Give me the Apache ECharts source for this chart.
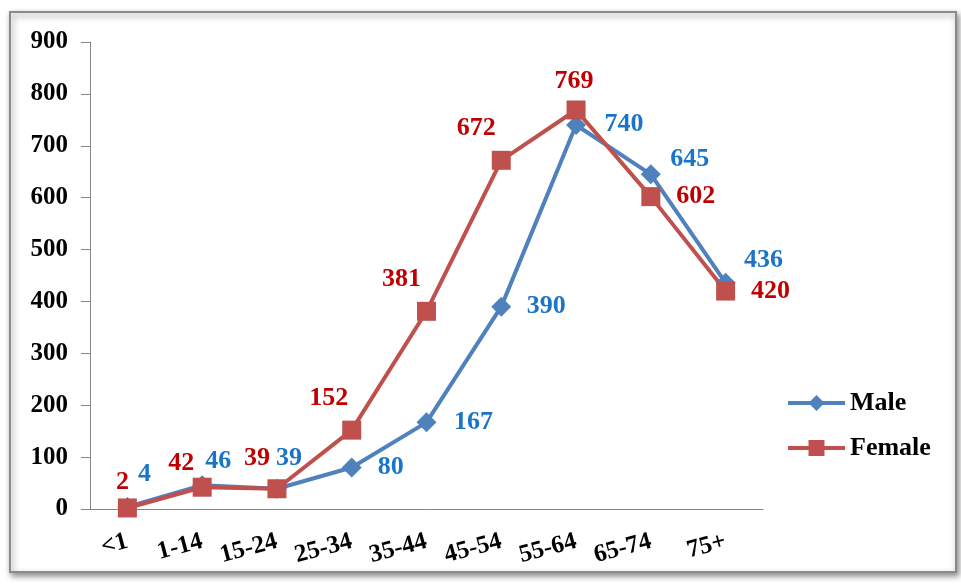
<!DOCTYPE html>
<html>
<head>
<meta charset="utf-8">
<script src="https://cdn.jsdelivr.net/npm/echarts@6/dist/echarts.min.js"></script>
<style>html,body{margin:0;padding:0;background:#fff;}#c{width:961px;height:584px;}</style>
</head>
<body>
<div id="c"></div>
<script>
var categories = ['<1', '1-14', '15-24', '25-34', '35-44', '45-54', '55-64', '65-74', '75+'];
var maleValues = [4, 46, 39, 80, 167, 390, 740, 645, 436];
var femaleValues = [2, 42, 39, 152, 381, 672, 769, 602, 420];
var yTicks = [0, 100, 200, 300, 400, 500, 600, 700, 800, 900];

// label offsets (style only)
var maleOffsets = [[17,-33],[16,-24],[12,-30],[39,0],[47,0],[45,0],[48,-1],[39,-15],[38,-22]];
var femaleOffsets = [[-5,-26],[-21,-24],[-20,-30],[-23,-32],[-25,-32],[-25,-32],[-2,-29],[45,0],[45,0]];

var FONT = '"Liberation Serif", "Times New Roman", serif';

function build(values, offsets) {
  return values.map(function (v, i) {
    return { value: v, label: { offset: offsets[i] } };
  });
}

var chart = echarts.init(document.getElementById('c'));
chart.setOption({
  animation: false,
  backgroundColor: '#fff',
  graphic: [{
    type: 'rect',
    z: -10,
    shape: { x: 10, y: 12, width: 946, height: 560 },
    style: { fill: '#fff', stroke: '#8a8a8a', lineWidth: 2, shadowBlur: 6, shadowOffsetX: 2, shadowOffsetY: 3, shadowColor: 'rgba(0,0,0,0.45)' },
    silent: true
  }],
  grid: { left: 90, right: 198, top: 42, bottom: 75 },
  legend: {
    orient: 'vertical',
    left: 781,
    top: 385,
    itemWidth: 57,
    itemHeight: 20,
    itemGap: 19,
    lineStyle: { width: 4 },
    textStyle: { fontFamily: FONT, fontWeight: 'bold', fontSize: 26, color: '#000' },
    data: ['Male', 'Female']
  },
  xAxis: {
    type: 'category',
    data: categories,
    boundaryGap: true,
    axisLine: { lineStyle: { color: '#868686', width: 1 } },
    axisTick: { length: 9, lineStyle: { color: '#868686' } },
    axisLabel: { interval: 0, rotate: 15, margin: 32, fontFamily: FONT, fontWeight: 'bold', fontSize: 25, color: '#000' }
  },
  yAxis: {
    type: 'value',
    min: 0, max: 900, interval: 100,
    splitLine: { show: false },
    axisLine: { show: true, lineStyle: { color: '#868686', width: 1 } },
    axisTick: { show: true, length: 9, lineStyle: { color: '#868686' } },
    axisLabel: {
      margin: 22, fontFamily: FONT, fontWeight: 'bold', fontSize: 25, color: '#000',
      formatter: function (v) { return yTicks.indexOf(v) >= 0 ? String(v) : ''; }
    }
  },
  series: [{
    name: 'Male',
    type: 'line',
    data: build(maleValues, maleOffsets),
    symbol: 'diamond',
    symbolSize: 20,
    lineStyle: { color: '#4f81bd', width: 4 },
    itemStyle: { color: '#4f81bd' },
    label: { show: true, position: 'inside', fontFamily: FONT, fontWeight: 'bold', fontSize: 26, color: '#1a75c9' }
  }, {
    name: 'Female',
    type: 'line',
    data: build(femaleValues, femaleOffsets),
    symbol: 'rect',
    symbolSize: 19,
    lineStyle: { color: '#c0504d', width: 4 },
    itemStyle: { color: '#c0504d' },
    label: { show: true, position: 'inside', fontFamily: FONT, fontWeight: 'bold', fontSize: 26, color: '#c00000' }
  }]
});
</script>
</body>
</html>
